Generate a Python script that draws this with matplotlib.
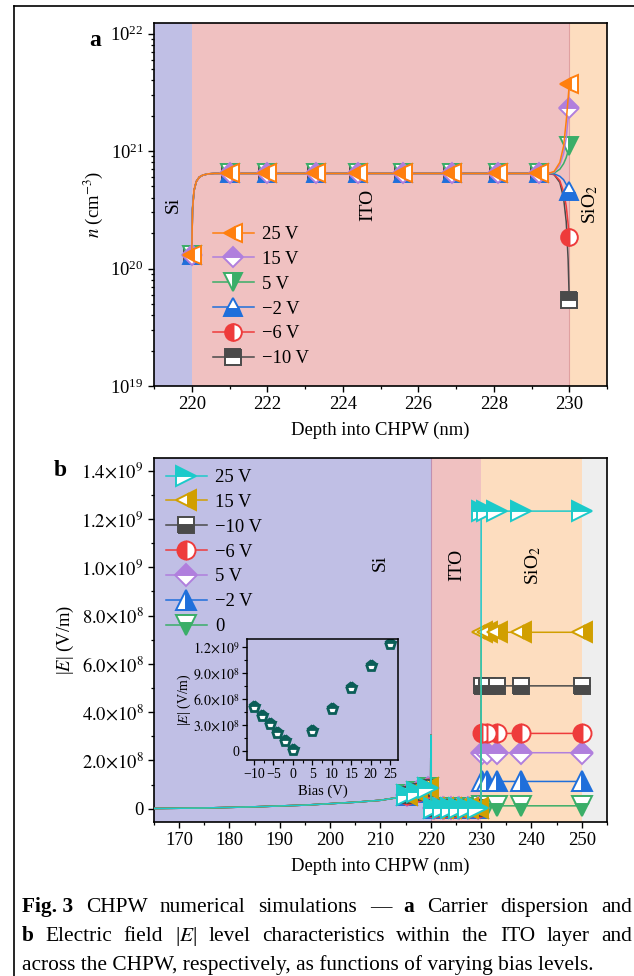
import matplotlib
matplotlib.use("Agg")
import matplotlib.pyplot as plt
from matplotlib.ticker import FixedLocator, FixedFormatter, MultipleLocator, LogLocator, NullFormatter
from matplotlib.lines import Line2D

plt.rcParams['font.family'] = ['Liberation Serif', 'DejaVu Serif']
plt.rcParams['mathtext.fontset'] = 'stix'
plt.rcParams['axes.unicode_minus'] = True

# ---------------- data: panel a (carrier density) ----------------
depth_a = [220.0, 220.02, 220.06, 220.12, 220.2, 220.3, 220.45, 220.6, 221.0, 222.0,
           223.3, 224.4, 225.6, 226.9, 228.1, 229.2, 229.45,
           229.6, 229.75, 229.85, 229.92, 229.97, 230.0]
n_common = [1.3e20, 3.2e20, 4.6e20, 5.5e20, 6.0e20, 6.25e20, 6.4e20, 6.45e20, 6.45e20, 6.45e20,
            6.45e20, 6.45e20, 6.45e20, 6.45e20, 6.45e20, 6.45e20, 6.45e20]
labels_a = ['25 V', '15 V', '5 V', '\u22122 V', '\u22126 V', '\u221210 V']
n_tail_25 = [6.7e20, 8.0e20, 1.1e21, 1.8e21, 2.8e21, 3.7e21]
n_tail_15 = [6.6e20, 7.6e20, 9.5e20, 1.3e21, 1.9e21, 2.34e21]
n_tail_5 = [6.5e20, 7.0e20, 7.8e20, 8.8e20, 1.0e21, 1.1e21]
n_tail_m2 = [6.4e20, 6.1e20, 5.7e20, 5.2e20, 4.8e20, 4.6e20]
n_tail_m6 = [6.3e20, 5.6e20, 4.5e20, 3.4e20, 2.4e20, 1.87e20]
n_tail_m10 = [6.3e20, 5.4e20, 4.0e20, 2.5e20, 1.2e20, 5.4e19]
n_tails = [n_tail_25, n_tail_15, n_tail_5, n_tail_m2, n_tail_m6, n_tail_m10]
marker_depths_a = [220.0, 221.0, 222.0, 223.3, 224.4, 225.6, 226.9, 228.1, 229.2, 230.0]

# ---------------- data: panel b (electric field) ----------------
depth_b = [165, 175, 185, 195, 205, 210, 213, 215.2, 217.2, 219.5, 219.97, 220.0, 220.03,
           220.6, 222.5, 224.0, 225.6, 227.3, 229.4, 229.97,
           230.0, 230.2, 231.1, 233.2, 238.0, 250.0]
e_common = [0.01e8, 0.03e8, 0.08e8, 0.15e8, 0.27e8, 0.35e8, 0.45e8, 0.58e8, 0.71e8, 0.85e8,
            0.9e8, 3.05e8, 0.05e8, 0.03e8, 0.03e8, 0.03e8, 0.03e8, 0.03e8, 0.03e8, 0.03e8]
labels_b = ['25 V', '15 V', '\u221210 V', '\u22126 V', '5 V', '\u22122 V', '0']
e_sio2 = [1.233e9, 7.31e8, 5.09e8, 3.12e8, 2.32e8, 1.13e8, 0.12e8]
marker_depths_b = [215.2, 217.2, 219.5, 220.6, 222.5, 224.0, 225.6, 227.3, 229.4,
                   230.2, 231.1, 233.2, 238.0, 250.0]
yticks_b = [0, 2e8, 4e8, 6e8, 8e8, 1.0e9, 1.2e9, 1.4e9]
yticklabels_b = ['0', r'$2.0{\times}10^{8}$', r'$4.0{\times}10^{8}$', r'$6.0{\times}10^{8}$',
                 r'$8.0{\times}10^{8}$', r'$1.0{\times}10^{9}$', r'$1.2{\times}10^{9}$',
                 r'$1.4{\times}10^{9}$']

# ---------------- data: inset ----------------
bias = [-10, -8, -6, -4, -2, 0, 5, 10, 15, 20, 25]
e_bias = [5.13e8, 4.09e8, 3.13e8, 2.12e8, 1.16e8, 0.12e8, 2.32e8, 4.83e8, 7.33e8, 9.85e8, 1.236e9]
yticks_in = [0, 3e8, 6e8, 9e8, 1.2e9]
yticklabels_in = ['0', r'$3.0{\times}10^{8}$', r'$6.0{\times}10^{8}$', r'$9.0{\times}10^{8}$',
                  r'$1.2{\times}10^{9}$']
xticks_in = [-10, -5, 0, 5, 10, 15, 20, 25]

# ---------------- styles ----------------
C_SI = '#c0bfe5'
C_ITO = '#f0c1c1'
C_SIO2 = '#fdddbf'
C_GREY = '#eeeeee'
ORANGE = '#ff7f0e'
PURPLE = '#b07fdd'
GREEN = '#3aae68'
BLUE = '#1f6fdb'
RED = '#ee3b3b'
GRAY = '#4a4a4a'
CYAN = '#1ccaca'
GOLD = '#d19f00'

styles_a = [
    dict(color=ORANGE, marker='<', fillstyle='left'),
    dict(color=PURPLE, marker='D', fillstyle='top'),
    dict(color=GREEN, marker='v', fillstyle='right'),
    dict(color=BLUE, marker='^', fillstyle='bottom'),
    dict(color=RED, marker='o', fillstyle='left'),
    dict(color=GRAY, marker='s', fillstyle='top'),
]
styles_b = [
    dict(color=CYAN, marker='>', fillstyle='top'),
    dict(color=GOLD, marker='<', fillstyle='right'),
    dict(color=GRAY, marker='s', fillstyle='bottom'),
    dict(color=RED, marker='o', fillstyle='left'),
    dict(color=PURPLE, marker='D', fillstyle='top'),
    dict(color=BLUE, marker='^', fillstyle='right'),
    dict(color=GREEN, marker='v', fillstyle='bottom'),
]
ms_size = {'<': 13.5, '>': 13.5, 'v': 13.5, '^': 13.5, 'D': 10.5, 'o': 12, 's': 11}

W, H = 634, 976
fig = plt.figure(figsize=(W / 100, H / 100), dpi=100)
FS = 13.4


def fx(px):
    return px / W


def fy(py):
    return 1 - py / H


def style_axes(ax):
    for s in ax.spines.values():
        s.set_linewidth(1.2)
    ax.tick_params(which='major', direction='out', length=4.5, width=1.0, labelsize=FS, pad=3)
    ax.tick_params(which='minor', direction='out', length=2.5, width=0.9)


# ================= Panel a =================
axa = fig.add_axes([fx(154), fy(386), fx(607) - fx(154), fy(23) - fy(386)])
axa.set_xlim(219, 231)
axa.set_yscale('log')
axa.set_ylim(1e19, 1.23e22)
axa.axvspan(219, 220, color=C_SI, lw=0, zorder=0)
axa.axvspan(220, 230, color=C_ITO, lw=0, zorder=0)
axa.axvspan(230, 231, color=C_SIO2, lw=0, zorder=0)
axa.axvline(230, color='#e0a0a0', lw=0.8, zorder=0.5)

handles_a = []
for i in range(len(labels_a) - 1, -1, -1):
    st = styles_a[i]
    yv = n_common + n_tails[i]
    mk_idx = [depth_a.index(d) for d in marker_depths_a]
    ln, = axa.plot(depth_a, yv, color=st['color'], lw=1.1, marker=st['marker'],
                   fillstyle=st['fillstyle'], markerfacecolor=st['color'],
                   markerfacecoloralt='white', markeredgecolor=st['color'],
                   markeredgewidth=1.4, markersize=ms_size[st['marker']],
                   markevery=mk_idx, zorder=3 + (len(labels_a) - i), label=labels_a[i])
    handles_a.append(ln)
handles_a = handles_a[::-1]

axa.xaxis.set_major_locator(MultipleLocator(2))
axa.xaxis.set_minor_locator(MultipleLocator(1))
axa.yaxis.set_major_locator(FixedLocator([1e19, 1e20, 1e21, 1e22]))
axa.yaxis.set_minor_locator(LogLocator(base=10, subs=[2, 3, 4, 5, 6, 7, 8, 9], numticks=20))
axa.yaxis.set_minor_formatter(NullFormatter())
style_axes(axa)
axa.set_xlabel('Depth into CHPW (nm)', fontsize=FS, labelpad=6)
axa.set_ylabel(r'$n$ (cm$^{-3}$)', fontsize=FS, labelpad=4)

axa.text(219.5, 3.5e20, 'Si', rotation=90, ha='center', va='center', fontsize=FS + 0.6)
axa.text(224.67, 3.5e20, 'ITO', rotation=90, ha='center', va='center', fontsize=FS + 0.6)
axa.text(230.55, 3.5e20, r'SiO$_2$', rotation=90, ha='center', va='center', fontsize=FS + 0.6)

leg_a = axa.legend(handles=handles_a, loc='upper left', bbox_to_anchor=(fx(213), fy(226)),
                   bbox_transform=fig.transFigure, frameon=False, fontsize=FS,
                   handlelength=2.2, handletextpad=0.45, labelspacing=0.42, borderpad=0,
                   borderaxespad=0)
leg_a.set_zorder(20)

# ================= Panel b =================
axb = fig.add_axes([fx(154), fy(822), fx(607) - fx(154), fy(458) - fy(822)])
axb.set_xlim(165, 255)
axb.set_ylim(-0.55e8, 1.453e9)
axb.axvspan(165, 220, color=C_SI, lw=0, zorder=0)
axb.axvspan(220, 230, color=C_ITO, lw=0, zorder=0)
axb.axvspan(230, 250, color=C_SIO2, lw=0, zorder=0)
axb.axvspan(250, 255, color=C_GREY, lw=0, zorder=0)
axb.axvline(220, color='#c090b0', lw=0.8, zorder=0.5)

handles_b = []
n_tail_b = len(depth_b) - len(e_common)
for i in range(len(labels_b) - 1, -1, -1):
    st = styles_b[i]
    yv = e_common + [e_sio2[i]] * n_tail_b
    mk_idx = [depth_b.index(d) for d in marker_depths_b]
    ln, = axb.plot(depth_b, yv, color=st['color'], lw=1.1, marker=st['marker'],
                   fillstyle=st['fillstyle'], markerfacecolor=st['color'],
                   markerfacecoloralt='white', markeredgecolor=st['color'],
                   markeredgewidth=1.4, markersize=ms_size[st['marker']] + 1,
                   markevery=mk_idx, zorder=3 + (len(labels_b) - i), label=labels_b[i])
    handles_b.append(ln)
handles_b = handles_b[::-1]

axb.xaxis.set_major_locator(MultipleLocator(10))
axb.xaxis.set_minor_locator(MultipleLocator(5))
axb.yaxis.set_major_locator(FixedLocator(yticks_b))
axb.yaxis.set_major_formatter(FixedFormatter(yticklabels_b))
axb.yaxis.set_minor_locator(MultipleLocator(1e8))
style_axes(axb)
axb.set_xlabel('Depth into CHPW (nm)', fontsize=FS, labelpad=6)
axb.set_ylabel(r'|$E$| (V/m)', fontsize=FS, labelpad=4)

axb.text(209.9, 10.2e8, 'Si', rotation=90, ha='center', va='center', fontsize=FS + 0.6)
axb.text(225.2, 10.1e8, 'ITO', rotation=90, ha='center', va='center', fontsize=FS + 0.6)
axb.text(240.3, 10.1e8, r'SiO$_2$', rotation=90, ha='center', va='center', fontsize=FS + 0.6)

leg_b = axb.legend(handles=handles_b, loc='upper left', bbox_to_anchor=(fx(166), fy(469)),
                   bbox_transform=fig.transFigure, frameon=False, fontsize=FS,
                   handlelength=2.2, handletextpad=0.45, labelspacing=0.42, borderpad=0,
                   borderaxespad=0)
leg_b.set_zorder(20)

# ================= Inset =================
axi = fig.add_axes([fx(247), fy(760), fx(398) - fx(247), fy(639) - fy(760)])
axi.patch.set_alpha(0)
axi.set_xlim(-11.8, 27)
axi.set_ylim(-1.04e8, 1.296e9)
axi.plot(bias, e_bias, linestyle='none', marker='p', markersize=8, fillstyle='top',
         markerfacecolor='#0b5e58', markerfacecoloralt='white', markeredgecolor='#0b5e58',
         markeredgewidth=2.0)
axi.xaxis.set_major_locator(FixedLocator(xticks_in))
axi.xaxis.set_minor_locator(MultipleLocator(2.5))
axi.yaxis.set_major_locator(FixedLocator(yticks_in))
axi.yaxis.set_major_formatter(FixedFormatter(yticklabels_in))
axi.yaxis.set_minor_locator(MultipleLocator(1.5e8))
for s in axi.spines.values():
    s.set_linewidth(1.1)
axi.tick_params(which='major', direction='out', length=3.5, width=0.9, labelsize=10, pad=2)
axi.tick_params(which='minor', direction='out', length=2, width=0.8)
axi.set_xlabel('Bias (V)', fontsize=10.5, labelpad=3)
axi.set_ylabel(r'|$E$| (V/m)', fontsize=10, labelpad=0)

# ================= panel labels, frame =================
fig.text(fx(95), fy(40), 'a', fontsize=17, weight='bold', ha='center', va='center')
fig.text(fx(60), fy(470), 'b', fontsize=17, weight='bold', ha='center', va='center')

fig.add_artist(Line2D([fx(14), fx(14)], [0, fy(6)], color='black', lw=1.2,
                      transform=fig.transFigure))
fig.add_artist(Line2D([fx(14), 1], [fy(6), fy(6)], color='black', lw=1.2,
                      transform=fig.transFigure))

# ================= caption =================
renderer = fig.canvas.get_renderer()
line3 = 'across the CHPW, respectively, as functions of varying bias levels.'
t3 = fig.text(fx(22), fy(970), line3, fontsize=14, va='baseline', ha='left')
w3 = t3.get_window_extent(renderer).width
cfs = 14 * (573 / w3)
t3.set_fontsize(cfs)


def place_line(words, ybase, x0, x1, fs):
    texts = []
    for w, wt in words:
        t = fig.text(0, fy(ybase), w, fontsize=fs, weight=wt, va='baseline', ha='left')
        texts.append(t)
    widths = [t.get_window_extent(renderer).width for t in texts]
    gap = (x1 - x0 - sum(widths)) / (len(texts) - 1)
    x = x0
    for t, w in zip(texts, widths):
        t.set_x(fx(x))
        x += w + gap


line1 = [('Fig. 3', 'bold'), ('CHPW', 'normal'), ('numerical', 'normal'),
         ('simulations', 'normal'), ('\u2014', 'normal'), ('a', 'bold'),
         ('Carrier', 'normal'), ('dispersion', 'normal'), ('and', 'normal')]
line2 = [('b', 'bold'), ('Electric', 'normal'), ('field', 'normal'), (r'|$E$|', 'normal'),
         ('level', 'normal'), ('characteristics', 'normal'), ('within', 'normal'),
         ('the', 'normal'), ('ITO', 'normal'), ('layer', 'normal'), ('and', 'normal')]
place_line(line1, 912, 22, 632, cfs)
place_line(line2, 941, 22, 632, cfs)

fig.savefig('out.png', dpi=100)
